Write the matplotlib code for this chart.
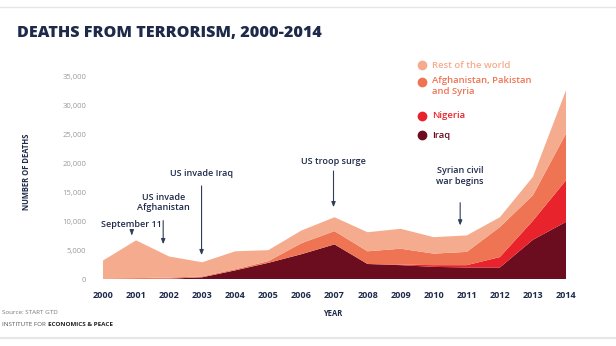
import matplotlib
matplotlib.use("Agg")
import matplotlib.pyplot as plt
import numpy as np

years = list(range(2000, 2015))
iraq = [0, 0, 50, 300, 1500, 2800, 4300, 6000, 2600, 2400, 2100, 2000, 2000, 6800, 9900]
nigeria = [0, 0, 0, 0, 0, 0, 0, 0, 0, 100, 300, 400, 1800, 3300, 7200]
afpak_syria = [100, 150, 200, 150, 200, 300, 1900, 2300, 2200, 2750, 2000, 2300, 5200, 4400, 8100]
rest_of_world = [3100, 6550, 3650, 2450, 3100, 1900, 2200, 2400, 3300, 3450, 2850, 2850, 1700, 3200, 7500]

series_names = ["Iraq", "Nigeria", "Afghanistan, Pakistan\nand Syria", "Rest of the world"]
series_colors = ["#6B0D1F", "#E8232B", "#EF7453", "#F5AB8E"]
yticks = [0, 5000, 10000, 15000, 20000, 25000, 30000, 35000]
ytick_labels = ["0", "5,000", "10,000", "15,000", "20,000", "25,000", "30,000", "35,000"]

navy = "#1E2A4A"
plt.rcParams['font.family'] = ['Open Sans', 'DejaVu Sans']

fig = plt.figure(figsize=(6.16, 3.46), dpi=100)
ax = fig.add_axes([103/616, 1-279/346, (566-103)/616, (279-77)/346])

ax.stackplot(years, iraq, nigeria, afpak_syria, rest_of_world,
             colors=series_colors, linewidth=0)
ax.set_xlim(2000, 2014)
ax.set_ylim(0, 35000)
for s in ax.spines.values():
    s.set_visible(False)
ax.set_yticks(yticks)
ax.set_yticklabels(ytick_labels, fontsize=5.5, color="#9A9A9A")
ax.set_xticks(years)
ax.set_xticklabels([str(y) for y in years], fontsize=6.5, color=navy, fontweight="bold")
ax.tick_params(axis="both", length=0)
ax.tick_params(axis="y", pad=12)
ax.tick_params(axis="x", pad=9)

# Titles and axis labels
fig.text(17/616, 1-33/346, "DEATHS FROM TERRORISM, 2000-2014", fontsize=11.6,
         fontweight="heavy", color=navy, va="center", ha="left")
fig.text(333/616, 1-313/346, "YEAR", fontsize=5.5, color=navy, fontweight="bold",
         ha="center", va="center")
fig.text(27/616, 1-172/346, "NUMBER OF DEATHS", fontsize=5.5, color=navy, fontweight="bold",
         rotation=90, ha="center", va="center")
fig.text(2/616, 1-312/346, "Source: START GTD", fontsize=4.5, color="#777777",
         ha="left", va="center")
t1 = fig.text(2/616, 1-325/346, "INSTITUTE FOR ", fontsize=4.5, color="#555555",
              ha="left", va="center")
fig.canvas.draw()
bb = t1.get_window_extent(renderer=fig.canvas.get_renderer())
fig.text(bb.x1/fig.bbox.width + 1/616, 1-325/346, "ECONOMICS & PEACE", fontsize=4.5, color="#222222",
         fontweight="bold", ha="left", va="center")

# top and bottom rules
fig.add_artist(plt.Line2D([0, 1], [1-7/346, 1-7/346], color="#E6E6E6", lw=1))
fig.add_artist(plt.Line2D([0, 1], [1-338/346, 1-338/346], color="#E6E6E6", lw=1.5))

# Legend
legend_y = [65, 82, 116, 135]
legend_order = [3, 2, 1, 0]
for ypix, idx in zip(legend_y, legend_order):
    fig.add_artist(plt.Line2D([422/616], [1-ypix/346], marker="o", markersize=6,
                              color=series_colors[idx], linestyle="none"))
    multiline = "\n" in series_names[idx]
    ty = 1-76/346 if multiline else 1-ypix/346
    fig.text(432/616, ty, series_names[idx], fontsize=6.8, color=series_colors[idx],
             fontweight="semibold", ha="left", va="top" if multiline else "center",
             linespacing=1.3)

# Annotations
arrowprops = dict(arrowstyle="-|>,head_width=0.12,head_length=0.3", color="#2E3E58", lw=0.8)
ann = [
    ("September 11", 2000.87, 9500, 8500, 7100),
    ("US invade\nAfghanistan", 2001.82, 13300, 10600, 5550),
    ("US invade Iraq", 2002.98, 18200, 16600, 3650),
    ("US troop surge", 2006.97, 20300, 19200, 11960),
    ("Syrian civil\nwar begins", 2010.8, 17850, 13700, 8800),
]
for label, x, ty, y0, y1 in ann:
    ax.text(x, ty, label, fontsize=6.5, color=navy, ha="center", va="center",
            fontweight="semibold", linespacing=1.2)
    ax.annotate("", xy=(x, y1), xytext=(x, y0), arrowprops=arrowprops)

fig.savefig("out.png", dpi=100)
